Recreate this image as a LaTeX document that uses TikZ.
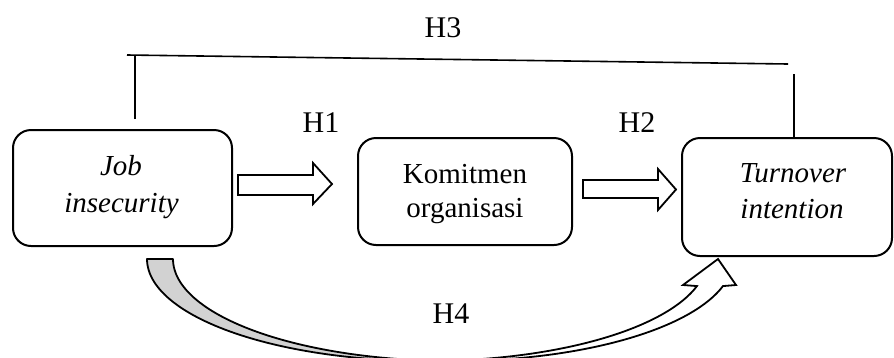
\documentclass[tikz,border=0pt]{standalone}
\usepackage{fontspec}
\setmainfont{Liberation Serif}
\begin{document}
\begin{tikzpicture}[x=1pt,y=-1pt,
  box/.style={draw, line width=2pt, rounded corners=18pt, inner sep=0pt},
  txt/.style={inner sep=0pt, anchor=base, font=\fontsize{29}{35}\selectfont},
  itxt/.style={txt, font=\fontsize{29}{35}\selectfont\itshape},
  lbl/.style={inner sep=0pt, anchor=base, font=\fontsize{30}{36}\selectfont},
  blockarrow/.style={draw, fill=white, line width=1.8pt, line join=miter},
  hline/.style={line width=1.6pt}]
\useasboundingbox (0,0) rectangle (894,357);
\clip (0,0) rectangle (894,357);
% boxes
\node[box, minimum width=219pt, minimum height=116pt] (b1) at (122.5,188) {};
\node[box, minimum width=214pt, minimum height=107pt] (b2) at (465,191.5) {};
\node[box, minimum width=210pt, minimum height=118pt] (b3) at (787,197) {};
% box texts
\node[itxt] (t1a) at (121,175) {Job};
\node[itxt] (t1b) at (121.5,212) {insecurity};
\node[txt] (t2a) at (465,183) {Komitmen};
\node[txt] (t2b) at (465,217) {organisasi};
\node[itxt] (t3a) at (793,182) {Turnover};
\node[itxt] (t3b) at (792,218) {intention};
% labels
\node[lbl] (h3) at (443,37) {H3};
\node[lbl] (h1) at (321,132) {H1};
\node[lbl] (h2) at (637,132) {H2};
\node[lbl] (h4) at (451,323) {H4};
% H3 connector
\coordinate (l1) at (135,119);
\coordinate (l2) at (135,55);
\coordinate (h3a) at (127,55);
\coordinate (h3b) at (788,64);
\coordinate (r1) at (794,74);
\draw[hline] (l1) -- (l2);
\draw[hline] (h3a) -- (h3b);
\draw[hline] (r1) -- (r1 |- b3.north);
% block arrows H1 and H2
\draw[blockarrow] (238,175) -- (313,175) -- (313,163) -- (332,184) -- (313,204) -- (313,195) -- (238,195) -- cycle;
\draw[blockarrow] (583,180) -- (658,180) -- (658,169) -- (676,189.5) -- (658,210) -- (658,198) -- (583,198) -- cycle;
% curved arrow H4
\filldraw[fill=gray!35, line width=1.8pt, line join=round]
  plot[domain=0:92.66, samples=60] ({427-280*cos(\x)},{259+102*sin(\x)})
  -- plot[domain=87.34:0, samples=60] ({453-280*cos(\x)},{259+102*sin(\x)}) -- cycle;
\filldraw[fill=white, line width=1.8pt, line join=miter]
  plot[domain=92.66:164.6, samples=60] ({427-280*cos(\x)},{259+102*sin(\x)})
  -- (683,285) -- (718,259) -- (736,285)
  -- plot[domain=164.6:87.34, samples=60] ({453-280*cos(\x)},{259+102*sin(\x)}) -- cycle;
\end{tikzpicture}
\end{document}
